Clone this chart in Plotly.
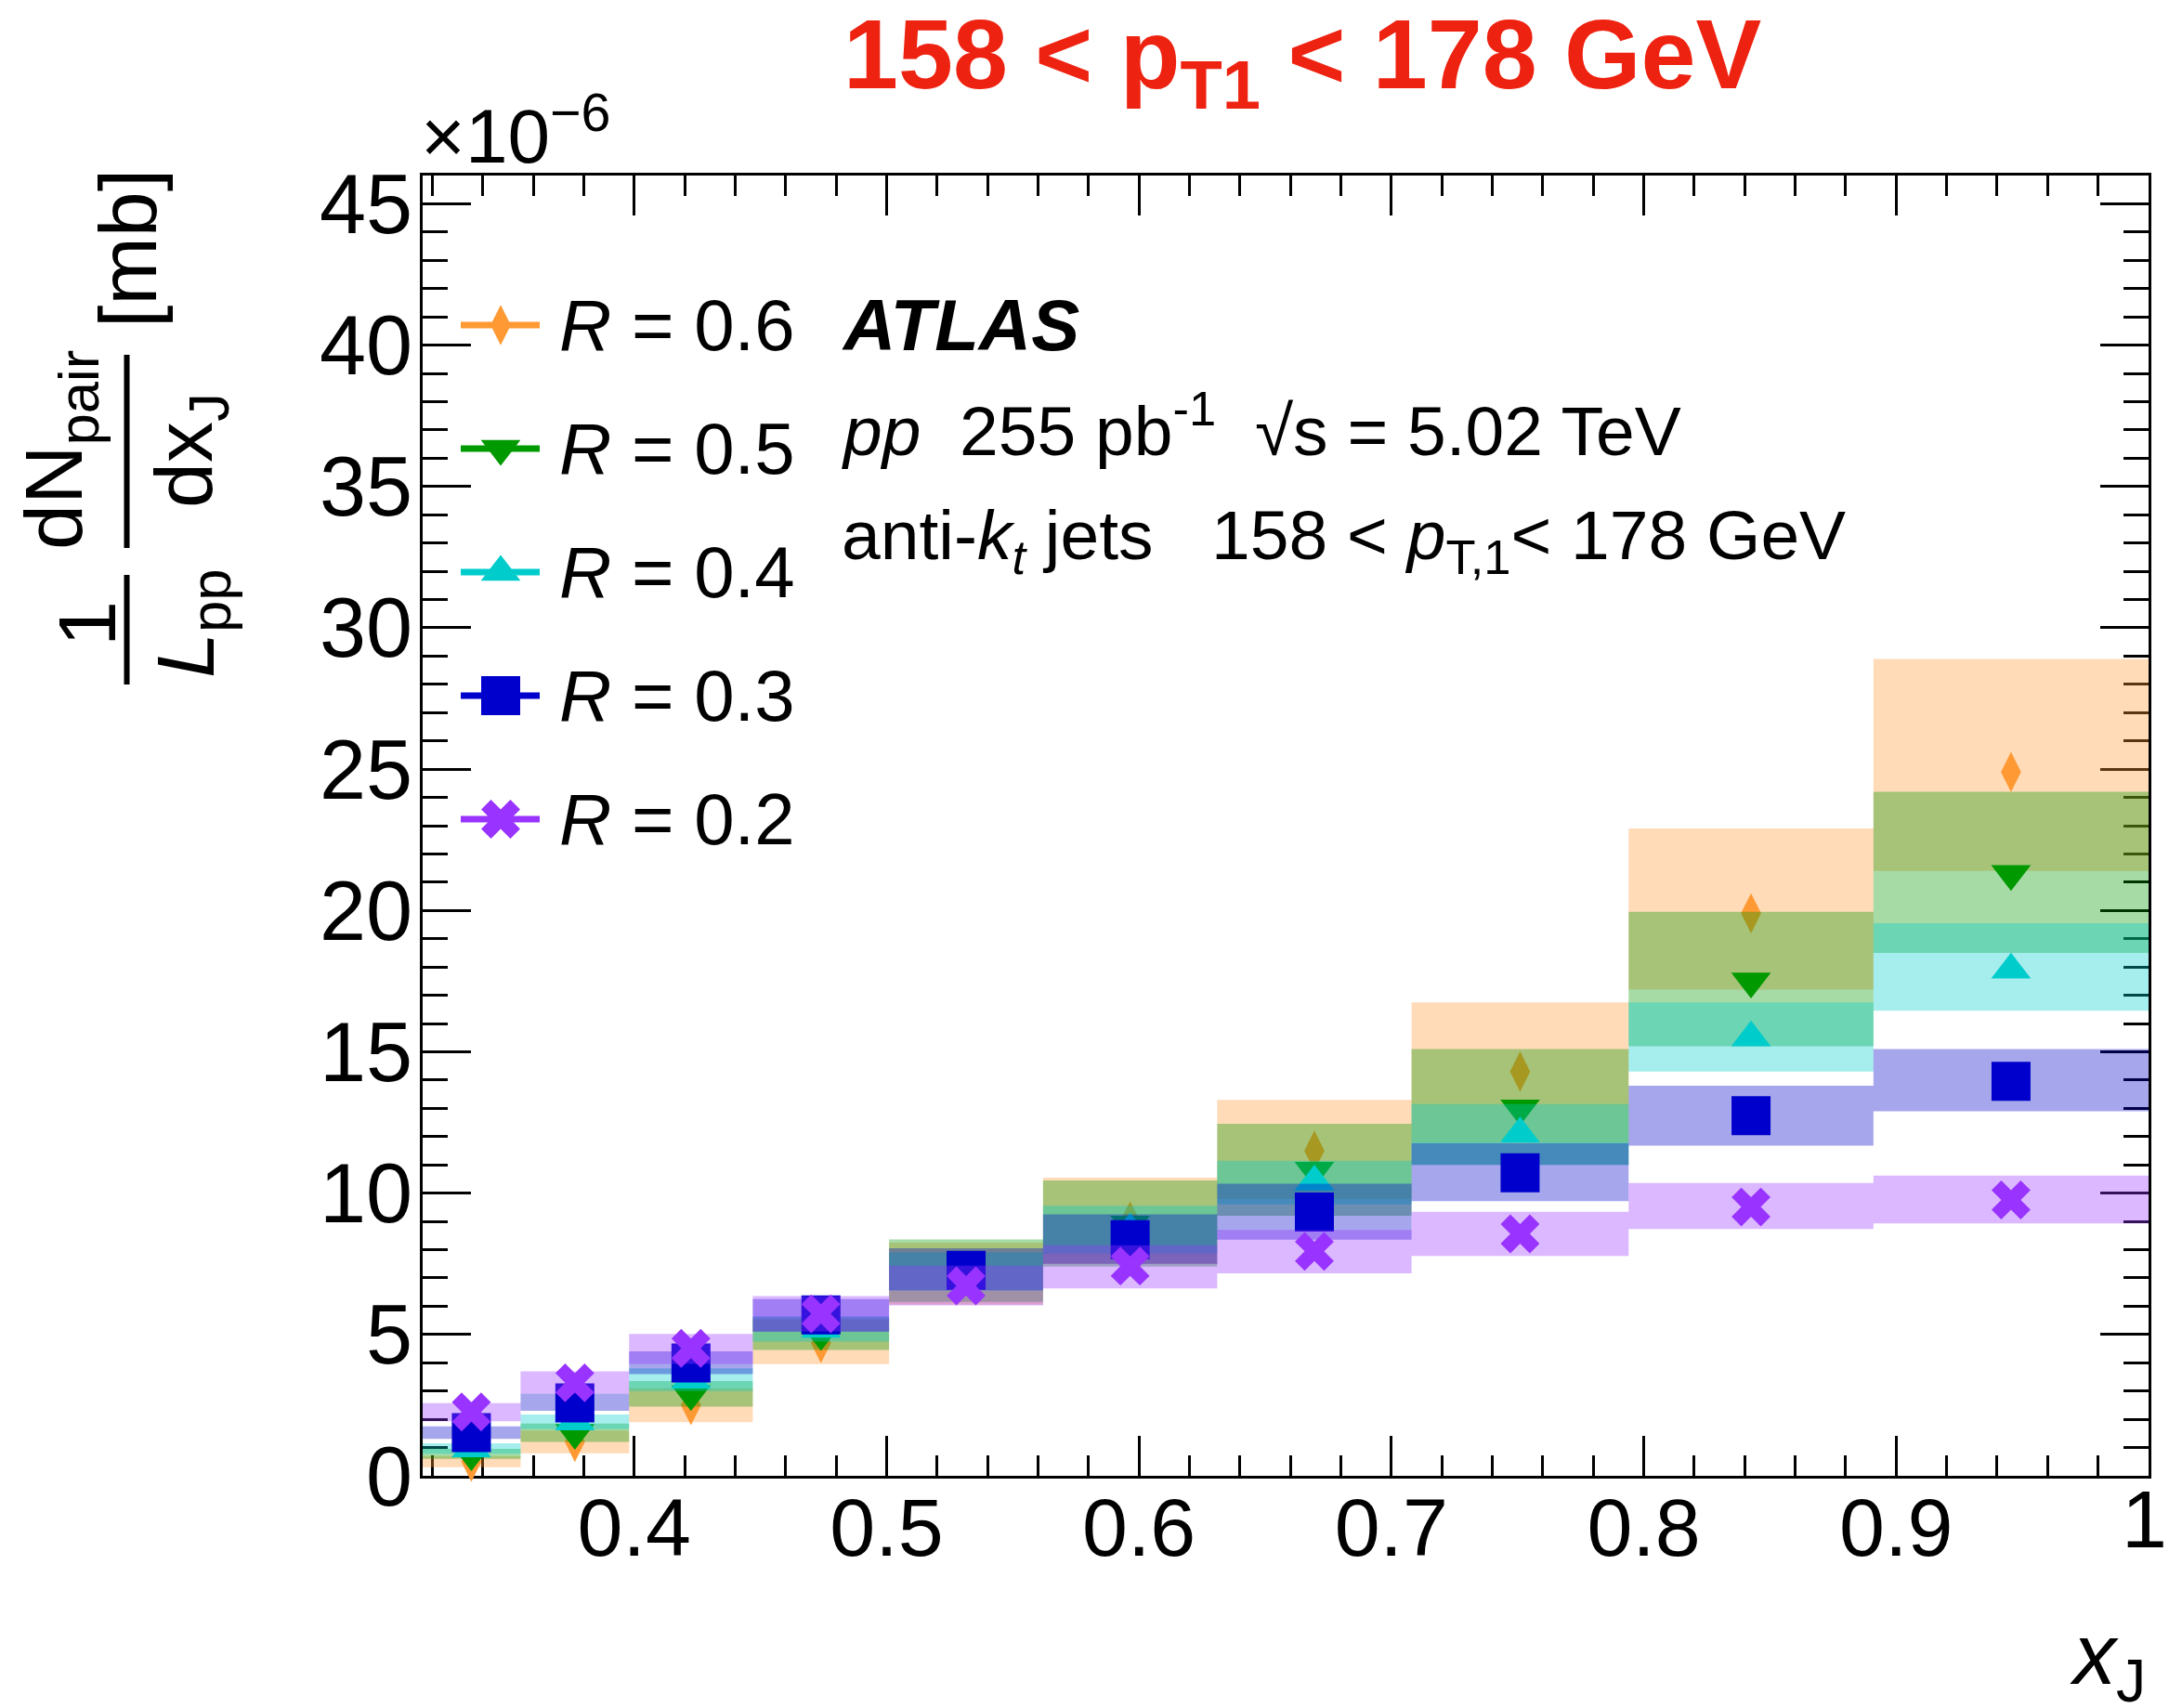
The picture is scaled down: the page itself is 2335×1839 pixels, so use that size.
import plotly.graph_objects as go

# ---------------- data (values in units of 1e-6 mb) ----------------
xj_edges = [0.316, 0.355, 0.398, 0.447, 0.501, 0.562, 0.631, 0.708, 0.794, 0.891, 1.0]

r06_val = [0.50, 1.20, 2.50, 4.70, 7.20, 9.00, 11.50, 14.30, 19.90, 24.90]
r06_lo  = [0.30, 0.80, 1.90, 3.95, 6.05, 7.50, 9.80, 11.80, 17.20, 21.40]
r06_hi  = [0.70, 1.60, 3.10, 5.50, 8.25, 10.55, 13.30, 16.75, 22.90, 28.90]

r05_val = [0.77, 1.53, 2.90, 5.03, 7.25, 8.90, 10.80, 13.00, 17.50, 21.30]
r05_lo  = [0.60, 1.20, 2.45, 4.45, 6.15, 7.40, 9.20, 11.00, 15.20, 18.50]
r05_hi  = [0.95, 1.85, 3.35, 5.60, 8.36, 10.45, 12.45, 15.10, 19.95, 24.20]

r04_val = [0.96, 1.91, 3.39, 5.19, 7.20, 8.70, 10.40, 12.10, 15.50, 17.90]
r04_lo  = [0.78, 1.65, 3.00, 4.75, 6.55, 7.85, 9.60, 11.00, 14.30, 16.45]
r04_hi  = [1.15, 2.17, 3.80, 5.65, 7.90, 9.55, 11.15, 13.15, 16.75, 19.55]

r03_val = [1.53, 2.58, 3.99, 5.69, 7.27, 8.35, 9.33, 10.72, 12.74, 13.96]
r03_lo  = [1.31, 2.30, 3.60, 5.10, 6.56, 7.50, 8.35, 9.72, 11.68, 12.90]
r03_hi  = [1.75, 2.91, 4.40, 6.25, 8.05, 9.25, 10.33, 11.77, 13.80, 15.10]

r02_val = [2.26, 3.29, 4.51, 5.73, 6.72, 7.42, 7.94, 8.56, 9.51, 9.76]
r02_lo  = [1.93, 2.91, 3.96, 5.10, 6.03, 6.63, 7.16, 7.78, 8.73, 8.93]
r02_hi  = [2.57, 3.70, 5.02, 6.36, 7.43, 8.16, 8.70, 9.34, 10.36, 10.62]

series_labels = ["0.6", "0.5", "0.4", "0.3", "0.2"]
x_tickvals = [0.4, 0.5, 0.6, 0.7, 0.8, 0.9, 1.0]
x_ticktext = ["0.4", "0.5", "0.6", "0.7", "0.8", "0.9", "1"]

# ---------------- styles ----------------
W, H = 2335, 1839
ML, MR, MT, MB = 455, 22, 189, 250
PW, PH = W - ML - MR, H - MT - MB
FONT = "Liberation Sans, Arial, Helvetica, sans-serif"

colors = ["#FF9933", "#009900", "#00CCCC", "#0000CC", "#9933FF"]
symbols = ["diamond-tall", "triangle-down", "triangle-up", "square", "x"]
sizes = [31, 37, 37, 42, 37]
ALPHA = 0.35


def fx(px):
    return (px - ML) / PW


def fy(py):
    return (MT + PH - py) / PH


def rgba(hexc, a):
    h = hexc.lstrip("#")
    r, g, b = int(h[0:2], 16), int(h[2:4], 16), int(h[4:6], 16)
    return f"rgba({r},{g},{b},{a})"


centers = [(xj_edges[i] + xj_edges[i + 1]) / 2 for i in range(len(xj_edges) - 1)]
all_series = [
    (r06_val, r06_lo, r06_hi),
    (r05_val, r05_lo, r05_hi),
    (r04_val, r04_lo, r04_hi),
    (r03_val, r03_lo, r03_hi),
    (r02_val, r02_lo, r02_hi),
]

fig = go.Figure()

for k, (vals, lo, hi) in enumerate(all_series):
    bx, by = [], []
    for i in range(len(vals)):
        e0, e1 = xj_edges[i], xj_edges[i + 1]
        bx += [e0, e1, e1, e0, e0, None]
        by += [lo[i], lo[i], hi[i], hi[i], lo[i], None]
    fig.add_trace(go.Scatter(
        x=bx, y=by, mode="lines", fill="toself",
        fillcolor=rgba(colors[k], ALPHA), line=dict(width=0),
        hoverinfo="skip", showlegend=False))
    fig.add_trace(go.Scatter(
        x=centers, y=vals, mode="markers",
        marker=dict(symbol=symbols[k], size=sizes[k], color=colors[k],
                    line=dict(width=0)),
        cliponaxis=False, showlegend=False))

# ---------------- custom legend on an overlay axis ----------------
leg_y0, leg_dy = 350, 133
for k in range(5):
    ypx = leg_y0 + k * leg_dy
    fig.add_trace(go.Scatter(
        x=[fx(496), fx(581)], y=[fy(ypx), fy(ypx)], mode="lines",
        line=dict(color=colors[k], width=7), xaxis="x2", yaxis="y2",
        hoverinfo="skip", showlegend=False))
    fig.add_trace(go.Scatter(
        x=[fx(539)], y=[fy(ypx)], mode="markers",
        marker=dict(symbol=symbols[k], size=sizes[k], color=colors[k],
                    line=dict(width=0)),
        xaxis="x2", yaxis="y2", hoverinfo="skip", showlegend=False))

annotations = []
for k in range(5):
    ypx = leg_y0 + k * leg_dy
    annotations.append(dict(
        text=f"<i>R</i> = {series_labels[k]}", x=fx(600), y=fy(ypx),
        xref="paper", yref="paper", xanchor="left", yanchor="middle",
        showarrow=False, font=dict(family=FONT, size=78, color="black")))

# ATLAS block
annotations.append(dict(
    text="<b><i>ATLAS</i></b>", x=fx(904), y=fy(350), xref="paper", yref="paper",
    xanchor="left", yanchor="middle", showarrow=False,
    font=dict(family=FONT, size=78, color="black")))
annotations.append(dict(
    text="<i>pp</i>\u00a0\u00a0255 pb<sup>-1</sup>\u00a0\u00a0√s = 5.02 TeV",
    x=fx(904), y=fy(458), xref="paper", yref="paper",
    xanchor="left", yanchor="middle", showarrow=False,
    font=dict(family=FONT, size=75, color="black")))
annotations.append(dict(
    text="anti-<i>k<sub>t</sub></i> jets\u00a0\u00a0\u00a0158 &lt; <i>p</i><sub>T,1</sub>&lt; 178 GeV",
    x=fx(904), y=fy(581), xref="paper", yref="paper",
    xanchor="left", yanchor="middle", showarrow=False,
    font=dict(family=FONT, size=75, color="black")))

# title
annotations.append(dict(
    text="<b>158 &lt; p<sub>T1</sub> &lt; 178 GeV</b>", x=fx(1402), y=fy(66),
    xref="paper", yref="paper", xanchor="center", yanchor="middle",
    showarrow=False, font=dict(family=FONT, size=106, color="#EE2211")))

# exponent
annotations.append(dict(
    text="×10<sup>−6</sup>", x=fx(451), y=fy(140), xref="paper", yref="paper",
    xanchor="left", yanchor="middle", showarrow=False,
    font=dict(family=FONT, size=82, color="black")))

# last x tick label, kept inside the page
annotations.append(dict(
    text=x_ticktext[-1], x=fx(W - 1), y=fy(1585), xref="paper", yref="paper",
    xanchor="right", yanchor="top", showarrow=False, borderpad=0,
    font=dict(family=FONT, size=88, color="black")))

# x title
annotations.append(dict(
    text="<i>x</i><sub>J</sub>", x=fx(2312), y=fy(1788), xref="paper", yref="paper",
    xanchor="right", yanchor="middle", showarrow=False,
    font=dict(family=FONT, size=92, color="black")))

# y title pieces (rotated)
ytitle_parts = [
    ("1", 93, 672),
    ("<i>L</i><sub>pp</sub>", 205, 672),
    ("dN<sub>pair</sub>", 63, 485),
    ("dx<sub>J</sub>", 203, 485),
    ("[mb]", 138, 268),
]
for txt, px, py in ytitle_parts:
    annotations.append(dict(
        text=txt, x=fx(px), y=fy(py), xref="paper", yref="paper",
        xanchor="center", yanchor="middle", textangle=-90, showarrow=False,
        font=dict(family=FONT, size=88, color="black")))

shapes = [
    dict(type="line", xref="paper", yref="paper", x0=fx(136.5), x1=fx(136.5),
         y0=fy(619), y1=fy(737), line=dict(color="black", width=6)),
    dict(type="line", xref="paper", yref="paper", x0=fx(136.5), x1=fx(136.5),
         y0=fy(382), y1=fy(590), line=dict(color="black", width=6)),
]

axis_common = dict(
    ticks="inside", tickwidth=3, tickcolor="black", showline=True,
    linewidth=3, linecolor="black", mirror="allticks", showgrid=False,
    zeroline=False, layer="below traces",
)

fig.update_layout(
    width=W, height=H, autosize=False,
    margin=dict(l=ML, r=MR, t=MT, b=MB, pad=0),
    plot_bgcolor="white", paper_bgcolor="white", showlegend=False,
    xaxis=dict(range=[0.3162, 1.0], tickvals=x_tickvals,
               ticktext=x_ticktext[:-1] + [""],
               ticklen=43, ticklabelstandoff=-23,
               tickfont=dict(family=FONT, size=88, color="black"),
               minor=dict(dtick=0.02, tick0=0, ticklen=22, tickwidth=3,
                          tickcolor="black", ticks="inside"),
               **axis_common),
    yaxis=dict(range=[0, 46], dtick=5, tick0=0, ticklen=52, ticklabelstandoff=-10,
               tickfont=dict(family=FONT, size=90, color="black"),
               minor=dict(dtick=1, tick0=0, ticklen=27, tickwidth=3,
                          tickcolor="black", ticks="inside"),
               **axis_common),
    xaxis2=dict(overlaying="x", range=[0, 1], visible=False, anchor="y2"),
    yaxis2=dict(overlaying="y", range=[0, 1], visible=False, anchor="x2"),
    annotations=annotations, shapes=shapes,
)

fig.write_html(
    "out.html", config={"displayModeBar": False},
    post_script=("document.body.style.margin='0';"
                 "document.body.style.overflow='hidden';"
                 "document.documentElement.style.overflow='hidden';"))
